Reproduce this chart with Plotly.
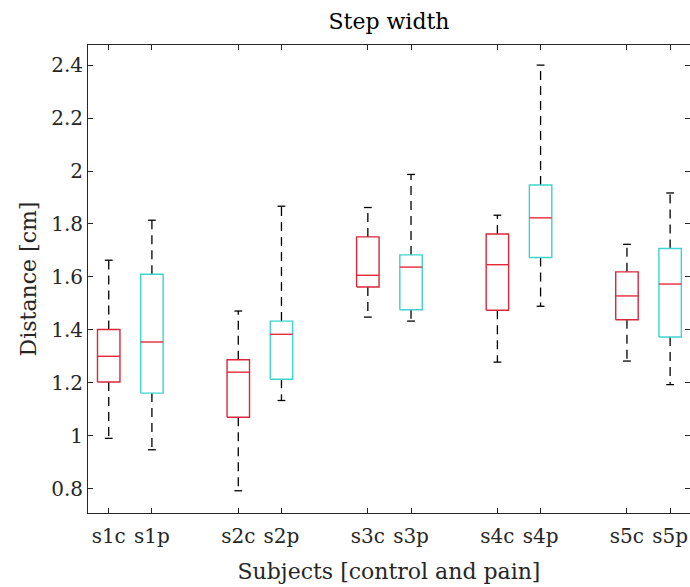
import plotly.graph_objects as go

# ---- data ----
labels = ["s1c", "s1p", "s2c", "s2p", "s3c", "s3p", "s4c", "s4p", "s5c", "s5p"]
positions = [1, 2, 4, 5, 7, 8, 10, 11, 13, 14]
lower_whisker = [0.990, 0.947, 0.792, 1.133, 1.448, 1.433, 1.278, 1.489, 1.282, 1.193]
q1 = [1.203, 1.161, 1.070, 1.213, 1.562, 1.476, 1.474, 1.673, 1.438, 1.373]
median = [1.300, 1.354, 1.240, 1.383, 1.606, 1.637, 1.646, 1.823, 1.528, 1.573]
q3 = [1.401, 1.610, 1.287, 1.433, 1.751, 1.683, 1.762, 1.947, 1.619, 1.707]
upper_whisker = [1.663, 1.814, 1.471, 1.867, 1.862, 1.987, 1.833, 2.400, 1.723, 1.917]
group = ["control", "pain"] * 5
y_ticks = [0.8, 1, 1.2, 1.4, 1.6, 1.8, 2, 2.2, 2.4]

RED = "#d8263a"
CYAN = "#3fd3d0"
MED = "#e8283a"
AX = "#262626"
FONT = "DejaVu Serif"

HW = 0.26   # box half width
CW = 0.09   # cap half width

def rect_path(idx):
    xs, ys = [], []
    for i in idx:
        p = positions[i]
        xs += [p - HW, p + HW, p + HW, p - HW, p - HW, None]
        ys += [q1[i], q1[i], q3[i], q3[i], q1[i], None]
    return xs, ys

fig = go.Figure()

# whiskers (dashed)
wx, wy = [], []
for i, p in enumerate(positions):
    wx += [p, p, None, p, p, None]
    wy += [q3[i], upper_whisker[i], None, q1[i], lower_whisker[i], None]
fig.add_trace(go.Scatter(x=wx, y=wy, mode="lines",
                         line=dict(color="black", width=1.3, dash="9px,6px"),
                         hoverinfo="skip", showlegend=False))

# caps
cx, cy = [], []
for i, p in enumerate(positions):
    cx += [p - CW, p + CW, None, p - CW, p + CW, None]
    cy += [upper_whisker[i]] * 2 + [None] + [lower_whisker[i]] * 2 + [None]
fig.add_trace(go.Scatter(x=cx, y=cy, mode="lines",
                         line=dict(color="black", width=1.3),
                         hoverinfo="skip", showlegend=False))

# boxes
ctrl = [i for i, g in enumerate(group) if g == "control"]
pain = [i for i, g in enumerate(group) if g == "pain"]
for idx, col in ((ctrl, RED), (pain, CYAN)):
    xs, ys = rect_path(idx)
    fig.add_trace(go.Scatter(x=xs, y=ys, mode="lines",
                             line=dict(color=col, width=1.4),
                             hoverinfo="skip", showlegend=False))

# medians
mx, my = [], []
for i, p in enumerate(positions):
    mx += [p - HW, p + HW, None]
    my += [median[i], median[i], None]
fig.add_trace(go.Scatter(x=mx, y=my, mode="lines",
                         line=dict(color=MED, width=1.4),
                         hoverinfo="skip", showlegend=False))

# invisible trace for right-side tick axis
fig.add_trace(go.Scatter(x=[positions[0]], y=[median[0]], yaxis="y2",
                         mode="markers", marker=dict(opacity=0),
                         hoverinfo="skip", showlegend=False))

fig.update_layout(
    width=690, height=587,
    margin=dict(l=88, r=0, t=45, b=74),
    paper_bgcolor="white", plot_bgcolor="white",
    font=dict(family=FONT, size=20, color=AX),
    title=dict(text="Step width", x=0.5, xref="paper", xanchor="center",
               y=1 - 21 / 587, yref="container", yanchor="middle",
               font=dict(family=FONT, size=22, color="black")),
    xaxis=dict(range=[0.52, 14.46], tickmode="array", tickvals=positions,
               ticktext=labels, ticks="inside", ticklen=5, tickcolor=AX,
               ticklabelstandoff=5,
               showline=True, linecolor=AX, linewidth=1, mirror="ticks",
               showgrid=False, zeroline=False,
               tickfont=dict(family=FONT, size=20, color=AX),
               title=dict(text="Subjects [control and pain]", standoff=16,
                          font=dict(family=FONT, size=22, color=AX))),
    yaxis=dict(range=[0.708, 2.476], tickmode="array", tickvals=y_ticks,
               ticktext=[f"{v:g}" for v in y_ticks],
               ticks="inside", ticklen=5, tickcolor=AX,
               showline=True, linecolor=AX, linewidth=1, mirror=False,
               showgrid=False, zeroline=False,
               tickfont=dict(family=FONT, size=20, color=AX),
               title=dict(text="Distance [cm]", standoff=8,
                          font=dict(family=FONT, size=22, color=AX))),
    yaxis2=dict(overlaying="y", side="right", matches="y", tickmode="array",
                tickvals=y_ticks, ticks="inside", ticklen=5, tickcolor=AX,
                showticklabels=False, showline=False, showgrid=False,
                zeroline=False),
)

fig.write_html("out.html")
